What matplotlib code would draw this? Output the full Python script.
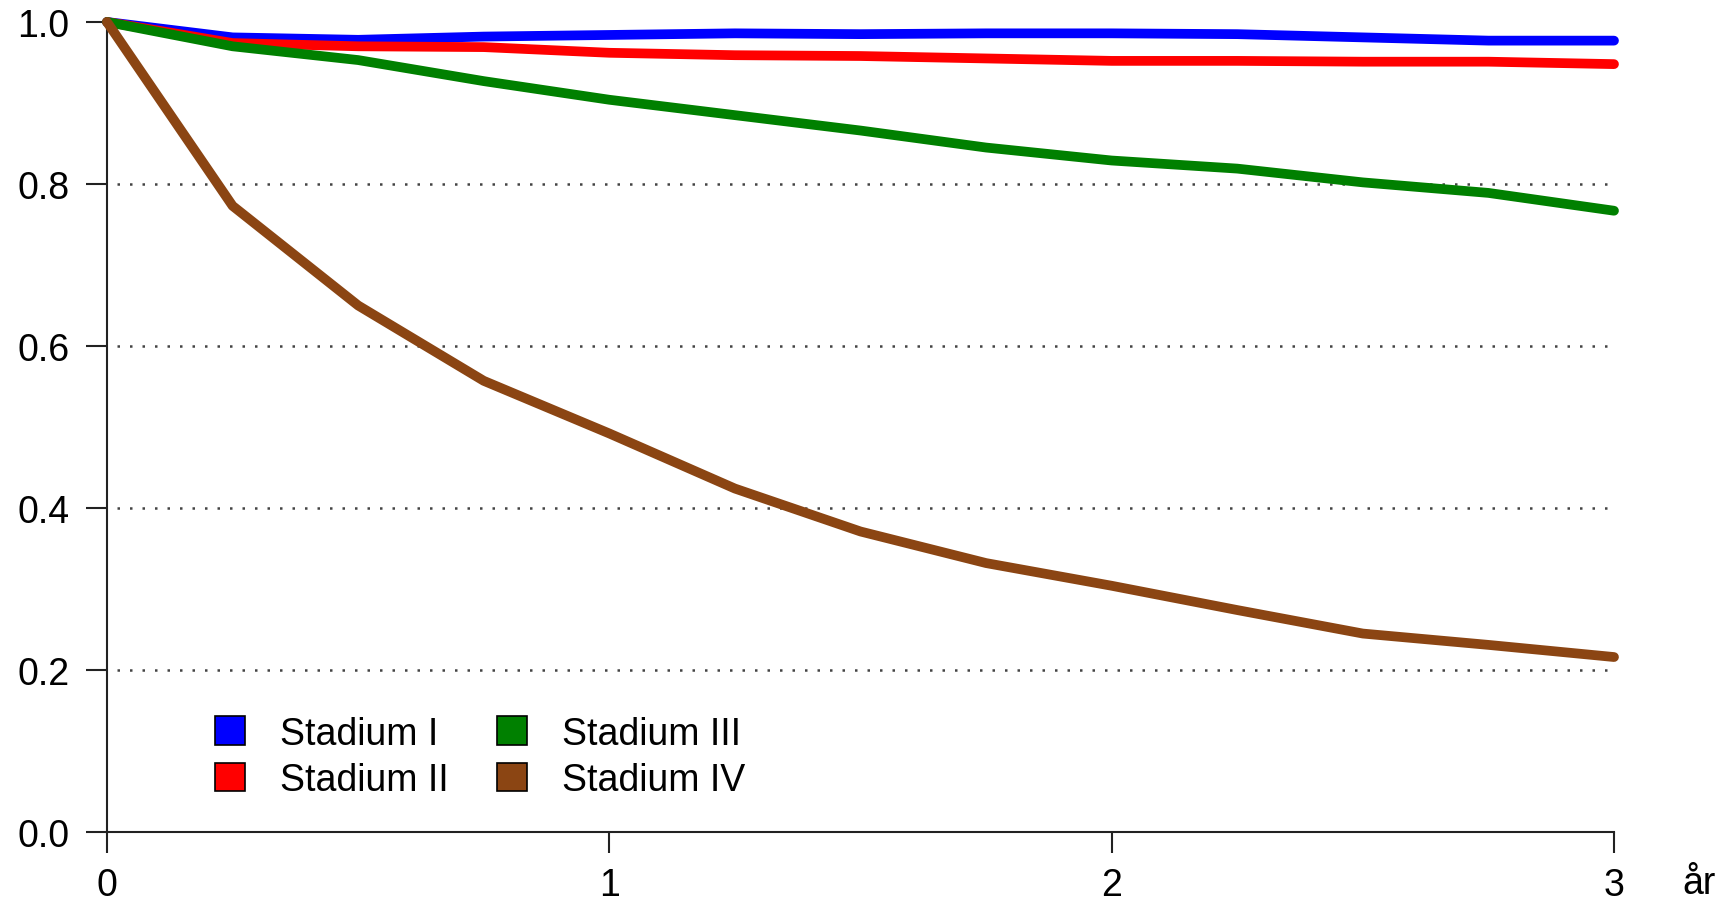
import matplotlib
matplotlib.use("Agg")
import matplotlib.pyplot as plt
from matplotlib.patches import Patch

plt.rcParams['font.family'] = ['Liberation Sans', 'DejaVu Sans']

# survival estimates every quarter year
years = [0, 0.25, 0.5, 0.75, 1.0, 1.25, 1.5, 1.75, 2.0, 2.25, 2.5, 2.75, 3.0]
stadium_1 = [1.0, 0.981, 0.978, 0.982, 0.984, 0.986, 0.985, 0.986, 0.986, 0.985, 0.981, 0.977, 0.977]
stadium_2 = [1.0, 0.974, 0.970, 0.969, 0.962, 0.959, 0.958, 0.955, 0.952, 0.952, 0.951, 0.951, 0.948]
stadium_3 = [1.0, 0.970, 0.953, 0.927, 0.904, 0.885, 0.866, 0.845, 0.829, 0.819, 0.802, 0.789, 0.767]
stadium_4 = [1.0, 0.773, 0.650, 0.557, 0.492, 0.424, 0.371, 0.332, 0.304, 0.274, 0.245, 0.231, 0.216]

labels = ["Stadium I", "Stadium II", "Stadium III", "Stadium IV"]
colors = ["#0000ff", "#ff0000", "#008000", "#8b4513"]
x_ticks = [0, 1, 2, 3]
y_ticks = [0.0, 0.2, 0.4, 0.6, 0.8, 1.0]
grid_levels = [0.2, 0.4, 0.6, 0.8]

fig = plt.figure(figsize=(17.33, 9.04), dpi=100)
ax = fig.add_axes([107 / 1733, 71 / 904, (1614 - 107) / 1733, 810 / 904])

# dotted reference lines
ax.hlines(grid_levels, 0.02, 2.99, colors="#444444", linewidth=1.8,
          linestyles=(0, (1, 4)), zorder=1)

for series, col in zip([stadium_1, stadium_2, stadium_3, stadium_4], colors):
    ax.plot(years, series, color=col, linewidth=7, solid_capstyle="round",
            solid_joinstyle="round", clip_on=False, zorder=3)

ax.set_xlim(0, 3)
ax.set_ylim(0, 1)
ax.set_xticks(x_ticks)
ax.set_xticklabels([str(t) for t in x_ticks])
ax.set_yticks(y_ticks)
ax.set_yticklabels([f"{t:.1f}" for t in y_ticks])

for side in ["top", "right"]:
    ax.spines[side].set_visible(False)
for side in ["left", "bottom"]:
    ax.spines[side].set_linewidth(1.5)
    ax.spines[side].set_color("#222222")

ax.tick_params(axis="both", direction="out", length=15, width=1.5,
               color="#222222", labelsize=27)
ax.tick_params(axis="y", pad=12)
ax.tick_params(axis="x", pad=10)

handles = [Patch(facecolor=c, edgecolor="black", linewidth=1.2) for c in colors]
ax.legend(handles, labels, ncol=2, frameon=False, fontsize=27,
          loc="upper left", bbox_to_anchor=(0.062, 0.162),
          handlelength=0.8, handleheight=0.8, handletextpad=0.92,
          columnspacing=1.3, labelspacing=0.27, borderaxespad=0)

fig.text(1699 / 1733, 1 - 884 / 904, "år", fontsize=27, ha="center", va="center")

fig.savefig("out.png", dpi=100, facecolor="white")
